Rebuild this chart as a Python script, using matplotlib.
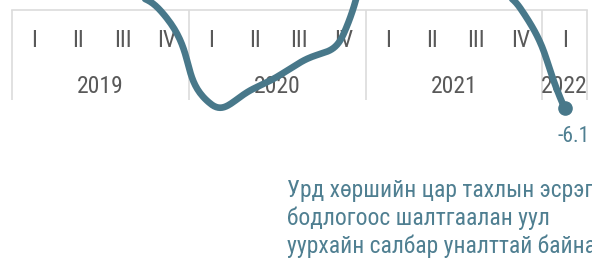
import numpy as np
import matplotlib
matplotlib.use("Agg")
import matplotlib.pyplot as plt

# quarterly values, 2019 Q1 .. 2022 Q1
years = ["2019", "2020", "2021", "2022"]
quarters = ["I", "II", "III", "IV"]
n_quarters = [4, 4, 4, 1]
growth = [1.5, 0.95, 1.1, -0.5,
          -5.85, -4.85, -3.3, -1.5,
          9.0, 5.0, 1.9, 0.1,
          -6.1]
note_lines = ["Урд хөршийн цар тахлын эсрэг",
              "бодлогоос шалтгаалан уул",
              "уурхайн салбар уналттай байна"]

line_col = "#48788a"
text_col = "#4f7f91"
grid_col = "#dcdcdc"
label_col = "#595959"

plt.rcParams["font.family"] = ["Roboto Condensed", "Roboto", "DejaVu Sans"]

fig = plt.figure(figsize=(5.92, 2.58), dpi=100)
ax = fig.add_axes([0, 0, 1, 1])
ax.set_xlim(-0.77, 12.62)
ax.set_ylim(-15.43, 0.62)
ax.axis("off")


def smooth_bezier(pts, smooth=0.5, steps=40):
    # echarts style smoothing, worked out in pixel space
    n = len(pts)
    cps = []
    for i in range(n):
        p = pts[i]
        prev = pts[max(i - 1, 0)]
        nxt = pts[min(i + 1, n - 1)]
        v = nxt - prev
        d0 = np.hypot(*(p - prev))
        d1 = np.hypot(*(nxt - p))
        s = d0 + d1
        if s > 0:
            d0, d1 = d0 / s, d1 / s
        cps.append((p - v * smooth * d0, p + v * smooth * d1))
    t = np.linspace(0, 1, steps)[:, None]
    out = [pts[:1]]
    for i in range(n - 1):
        p0, c1, c2, p3 = pts[i], cps[i][1], cps[i + 1][0], pts[i + 1]
        seg = (1 - t) ** 3 * p0 + 3 * (1 - t) ** 2 * t * c1 + 3 * (1 - t) * t ** 2 * c2 + t ** 3 * p3
        out.append(seg[1:])
    return np.vstack(out)


x = np.arange(len(growth))
disp = ax.transData.transform(np.column_stack([x, growth]))
curve = ax.transData.inverted().transform(smooth_bezier(disp))

# category "table" under the zero line
edges = np.concatenate([[0], np.cumsum(n_quarters)]) - 0.5
ax.plot([edges[0], edges[-1]], [0, 0], color=grid_col, lw=1.2, zorder=1)
ax.vlines(edges, -5.6, 0, color=grid_col, lw=1.2, zorder=1)

for i in x:
    ax.text(i, -2.3, quarters[i % 4], ha="center", va="baseline",
            fontsize=17, color=label_col, zorder=2)
for k, yr in enumerate(years):
    mid = (edges[k] + edges[k + 1]) / 2
    ax.text(mid, -5.16, yr, ha="center", va="baseline",
            fontsize=17, color=label_col, zorder=2)

ax.plot(curve[:, 0], curve[:, 1], color=line_col, lw=4.8,
        solid_capstyle="round", zorder=3)
ax.plot(x[-1], growth[-1], "o", color=line_col, ms=9.5, zorder=4)
ax.annotate(f"{growth[-1]:.1f}", (x[-1], growth[-1]), xytext=(-7, -34),
            textcoords="offset pixels", ha="left", va="baseline",
            fontsize=15.5, color=text_col)

for k, line in enumerate(note_lines):
    fig.text(287 / 592, (61 - 28 * k) / 258, line, ha="left", va="baseline",
             fontsize=17, color=text_col)

fig.savefig("out.png", dpi=100)
